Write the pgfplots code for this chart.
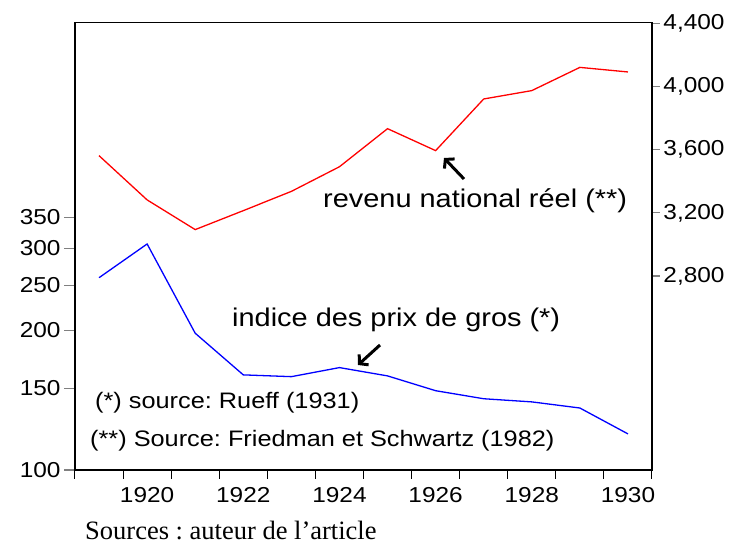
\documentclass[border=0pt]{standalone}
\usepackage{fontspec}
\setmainfont{Liberation Sans}[FakeStretch=1.13]
\newfontfamily\captionserif{Liberation Serif}
\usepackage{pgfplots}
\usepackage{pgfplotstable}
\pgfplotsset{compat=1.18}
\usetikzlibrary{arrows.meta}
\frenchspacing

\pgfplotstableread{
year prix
1919 259.6
1920 306.9
1921 197.1
1922 160.3
1923 158.9
1924 166.2
1925 159.5
1926 148.2
1927 142.4
1928 140.2
1929 136.0
1930 119.6
}\prixtable

\pgfplotstableread{
year revenu
1919 3562
1920 3282
1921 3094
1922 3214
1923 3336
1924 3492
1925 3733
1926 3594
1927 3921
1928 3974
1929 4121
1930 4092
}\revenutable

\begin{document}
\begin{tikzpicture}
\path[use as bounding box] (0pt,0pt) rectangle (734pt,545pt);
\begin{axis}[
  at={(75pt,75pt)}, anchor=south west,
  scale only axis, width=577pt, height=447.3pt,
  xmin=1918.5, xmax=1930.5,
  ymode=log, ymin=100, ymax=920,
  axis line style={line width=1.2pt, black},
  xtick={1920,1922,1924,1926,1928,1930},
  xticklabels={1920,1922,1924,1926,1928,1930},
  minor xtick={1918.5,1919.5,...,1930.5},
  xtick pos=bottom, ytick pos=left,
  tick align=outside,
  ytick={100,150,200,250,300,350},
  yticklabels={100,150,200,250,300,350},
  major tick length=11pt, minor tick length=9pt,
  every major x tick/.append style={draw=none},
  every minor x tick/.append style={black, line width=1pt},
  every major y tick/.append style={gray, line width=1.2pt},
  tick label style={font=\fontsize{21.6}{24}\selectfont},
  xticklabel style={yshift=-3pt},
  clip=false,
]
\addplot[blue, line width=1.3pt] table[x=year, y=prix] {\prixtable};
\end{axis}
\begin{axis}[
  at={(75pt,75pt)}, anchor=south west,
  scale only axis, width=577pt, height=447.3pt,
  xmin=1918.5, xmax=1930.5,
  axis x line=none, axis y line*=right,
  ymin=1572, ymax=4404,
  ytick={2800,3200,3600,4000,4400},
  yticklabels={{2,800},{3,200},{3,600},{4,000},{4,400}},
  tick align=outside, major tick length=8pt,
  every major y tick/.append style={gray, line width=1.2pt},
  axis line style={line width=1.2pt, black},
  tick label style={font=\fontsize{21.6}{24}\selectfont},
  clip=false,
]
\addplot[red, line width=1.3pt] table[x=year, y=revenu] {\revenutable};
\end{axis}
\node[anchor=west, inner sep=0pt, font=\fontsize{25.6}{28}\selectfont] at (323pt,344pt) {revenu national réel (**)};
\node[anchor=west, inner sep=0pt, font=\fontsize{25.6}{28}\selectfont] at (232pt,225pt) {indice des prix de gros (*)};
\node[anchor=west, inner sep=0pt, font=\fontsize{22.4}{25}\selectfont] at (95pt,142pt) {(*) source: Rueff (1931)};
\node[anchor=west, inner sep=0pt, font=\fontsize{22.4}{25}\selectfont] at (90pt,104pt) {(**) Source: Friedman et Schwartz (1982)};
\node[anchor=west, inner sep=0pt, font=\captionserif\fontsize{26.5}{29}\selectfont] at (85pt,15pt) {Sources : auteur de l’article};
\draw[line width=3pt, -{Straight Barb[length=6pt, width=14pt]}] (464pt,366pt) -- (444pt,387pt);
\draw[line width=3pt, -{Straight Barb[length=6pt, width=14pt]}] (380pt,200pt) -- (358pt,180pt);
\end{tikzpicture}
\end{document}
